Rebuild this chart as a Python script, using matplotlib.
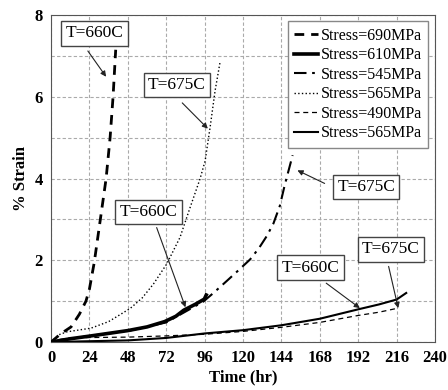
import matplotlib.pyplot as plt
import numpy as np

plt.rcParams['font.family'] = ['Liberation Serif', 'DejaVu Serif']

# 690 MPa (T=660C)
t690 = [0, 6, 12.5, 17.7, 21.8, 24, 27, 30.8, 34.4, 36.9, 38.75, 40.4]
s690 = [0, 0.2, 0.37, 0.68, 1.0, 1.3, 1.95, 3.0, 4.0, 5.0, 6.0, 7.15]
# 610 MPa (T=660C)
t610 = [0, 12, 25, 48, 60, 71, 78, 83, 90, 95.8, 97]
s610 = [0, 0.08, 0.15, 0.28, 0.37, 0.5, 0.63, 0.78, 0.92, 1.05, 1.15]
# 545 MPa (T=675C)
t545 = [0, 24, 48, 72, 95.2, 101.5, 110, 117, 124.4, 130, 134.8, 139, 143, 146, 148.5, 151]
s545 = [0, 0.15, 0.27, 0.48, 0.99, 1.2, 1.5, 1.75, 2.02, 2.3, 2.59, 2.9, 3.33, 3.83, 4.2, 4.57]
# 565 MPa (T=675C)
t565a = [0, 5, 10, 25, 36, 49.4, 57, 64, 72.3, 80.6, 86.9, 93.1, 96.3, 99.4, 102.5, 105.6]
s565a = [0, 0.18, 0.25, 0.34, 0.5, 0.82, 1.08, 1.42, 1.91, 2.56, 3.29, 3.99, 4.43, 5.25, 6.14, 6.84]
# 490 MPa (T=675C)
t490 = [0, 5, 12, 24, 48, 72, 96, 120, 144, 168, 192, 205, 217]
s490 = [0, 0.06, 0.1, 0.11, 0.12, 0.15, 0.19, 0.26, 0.36, 0.48, 0.65, 0.73, 0.83]
# 565 MPa (T=660C)
t565b = [0, 24, 48, 72, 96, 120, 144, 168, 192, 205, 216, 222]
s565b = [0, 0.02, 0.04, 0.1, 0.21, 0.29, 0.41, 0.57, 0.8, 0.92, 1.04, 1.2]

labels = ['Stress=690MPa', 'Stress=610MPa', 'Stress=545MPa',
          'Stress=565MPa', 'Stress=490MPa', 'Stress=565MPa']

fig = plt.figure(figsize=(4.48, 3.9), dpi=100)
ax = fig.add_axes([0.114, 0.123, 0.857, 0.8385])

ax.plot(t545, s545, color='k', lw=1.5, dashes=(6, 2.7, 1.3, 2.7), label=labels[2], zorder=3)
ax.plot(t690, s690, color='k', lw=2, dashes=(3.5, 2.5), label=labels[0], zorder=4)
ax.plot(t610, s610, color='k', lw=2.6, label=labels[1], zorder=5)
ax.plot(t565a, s565a, color='k', lw=1, ls=':', label=labels[3], zorder=3)
ax.plot(t490, s490, color='k', lw=0.9, dashes=(4, 3), label=labels[4], zorder=3)
ax.plot(t565b, s565b, color='k', lw=1.5, label=labels[5], zorder=3)

ax.set_xlim(0, 240)
ax.set_ylim(0, 8)
ax.set_xticks(np.arange(0, 241, 24))
ax.set_yticks([0, 2, 4, 6, 8])
ax.set_yticks([1, 3, 5, 7], minor=True)
ax.tick_params(which='both', length=0, labelsize=12, pad=6)
for lab in ax.get_xticklabels() + ax.get_yticklabels():
    lab.set_fontweight('bold')
ax.grid(True, which='both', color='#aaaaaa', ls=(0, (3, 2)), lw=0.8)
for sp in ax.spines.values():
    sp.set_color('#555555')
ax.set_xlabel('Time (hr)', fontsize=12, fontweight='bold', labelpad=2)
ax.set_ylabel('% Strain', fontsize=12, fontweight='bold', labelpad=4)

# legend in the original order
h, l = ax.get_legend_handles_labels()
order = [1, 2, 0, 3, 4, 5]
leg = ax.legend([h[i] for i in order], [l[i] for i in order], loc='upper right',
                fontsize=11.5, handlelength=1.5, handletextpad=0.15, labelspacing=0.22,
                borderpad=0.4, borderaxespad=0.3, fancybox=False, framealpha=1,
                bbox_to_anchor=(0.995, 0.995))
leg.get_frame().set_edgecolor('#888888')
leg.get_frame().set_linewidth(1)

# annotations: text, box centre, arrow tail, arrow head
notes = [('T=660C', (27.2, 7.55), (23, 7.12), (34.4, 6.49)),
         ('T=675C', (78.7, 6.29), (82, 5.85), (98, 5.22)),
         ('T=675C', (197, 3.79), (171, 3.88), (154, 4.2)),
         ('T=660C', (61, 3.18), (66, 2.8), (84, 0.85)),
         ('T=660C', (162, 1.82), (172, 1.44), (193, 0.83)),
         ('T=675C', (212.5, 2.27), (211, 1.85), (217, 0.83))]
for txt, c, tail, head in notes:
    ax.text(c[0], c[1], txt, fontsize=12.5, ha='center', va='center', zorder=6,
            bbox=dict(boxstyle='square,pad=0.25', fc='white', ec='#444444', lw=1))
    ax.annotate('', xy=head, xytext=tail, zorder=6,
                arrowprops=dict(arrowstyle='-|>', color='#222222', lw=0.8,
                                mutation_scale=8, shrinkA=0, shrinkB=0))

fig.savefig('out.png', dpi=100)
